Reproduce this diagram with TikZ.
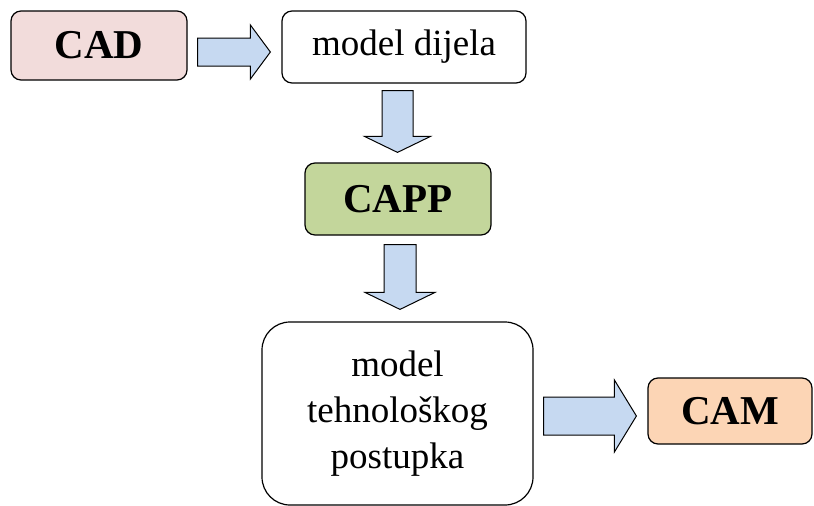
\documentclass[tikz,border=0pt]{standalone}
\usepackage{fontspec}
\setmainfont{Liberation Serif}
\usetikzlibrary{calc}

\definecolor{cadpink}{HTML}{F2DCDB}
\definecolor{cappgreen}{HTML}{C3D69B}
\definecolor{camorange}{HTML}{FCD5B5}
\definecolor{arrowblue}{HTML}{C6D9F1}

% fat block arrow: #1 start, #2 tip, #3 half shaft, #4 half head, #5 head length
\newcommand{\fatarrow}[5]{%
  \coordinate (fa-s) at #1;
  \coordinate (fa-e) at #2;
  \coordinate (fa-b) at ($(fa-e)!#5!(fa-s)$);
  \draw[fatarr] ($(fa-s)!#3!90:(fa-e)$) -- ($(fa-b)!#3!-90:(fa-s)$)
    -- ($(fa-b)!#4!-90:(fa-s)$) -- (fa-e) -- ($(fa-b)!#4!90:(fa-s)$)
    -- ($(fa-b)!#3!90:(fa-s)$) -- ($(fa-s)!#3!-90:(fa-e)$) -- cycle;
}

\begin{document}
\begin{tikzpicture}[x=1pt,y=-1pt,
    box/.style={draw, line width=1.2pt, rounded corners=10pt, inner sep=0pt},
    bigtxt/.style={font=\fontsize{41}{49}\selectfont\bfseries},
    smalltxt/.style={font=\fontsize{37}{46}\selectfont},
    fatarr/.style={draw, fill=arrowblue, line width=1pt, line join=miter}]
    \useasboundingbox (0,0) rectangle (814,506);

    % Boxes
    \node[box, bigtxt, fill=cadpink, minimum width=176pt, minimum height=69pt] (cad) at (99,45.5) {CAD};
    \node[box, smalltxt, minimum width=244pt, minimum height=72pt] (dijela) at (404,47) {model dijela};
    \node[box, bigtxt, fill=cappgreen, minimum width=186pt, minimum height=72pt] (capp) at (398,199) {CAPP};
    \node[box, smalltxt, align=center, rounded corners=28pt, minimum width=271pt, minimum height=183pt] (tehno) at (397.5,413.5)
        {model\\tehnološkog\\postupka};
    \node[box, bigtxt, fill=camorange, minimum width=164pt, minimum height=66pt] (cam) at (730,411) {CAM};

    % Arrows
    \fatarrow{($(cad.east)+(10,6.5)$)}{($(dijela.west)+(-11,5)$)}{14pt}{27pt}{20pt}
    \fatarrow{($(dijela.south)+(-6.5,7)$)}{($(capp.north)+(-0.5,-10)$)}{15.5pt}{33pt}{16pt}
    \fatarrow{($(capp.south)+(2,9)$)}{($(tehno.north)+(2.5,-12)$)}{16pt}{35pt}{17pt}
    \fatarrow{($(tehno.east)+(10,2.5)$)}{($(cam.west)+(-11,5)$)}{19pt}{36pt}{22pt}
\end{tikzpicture}
\end{document}
